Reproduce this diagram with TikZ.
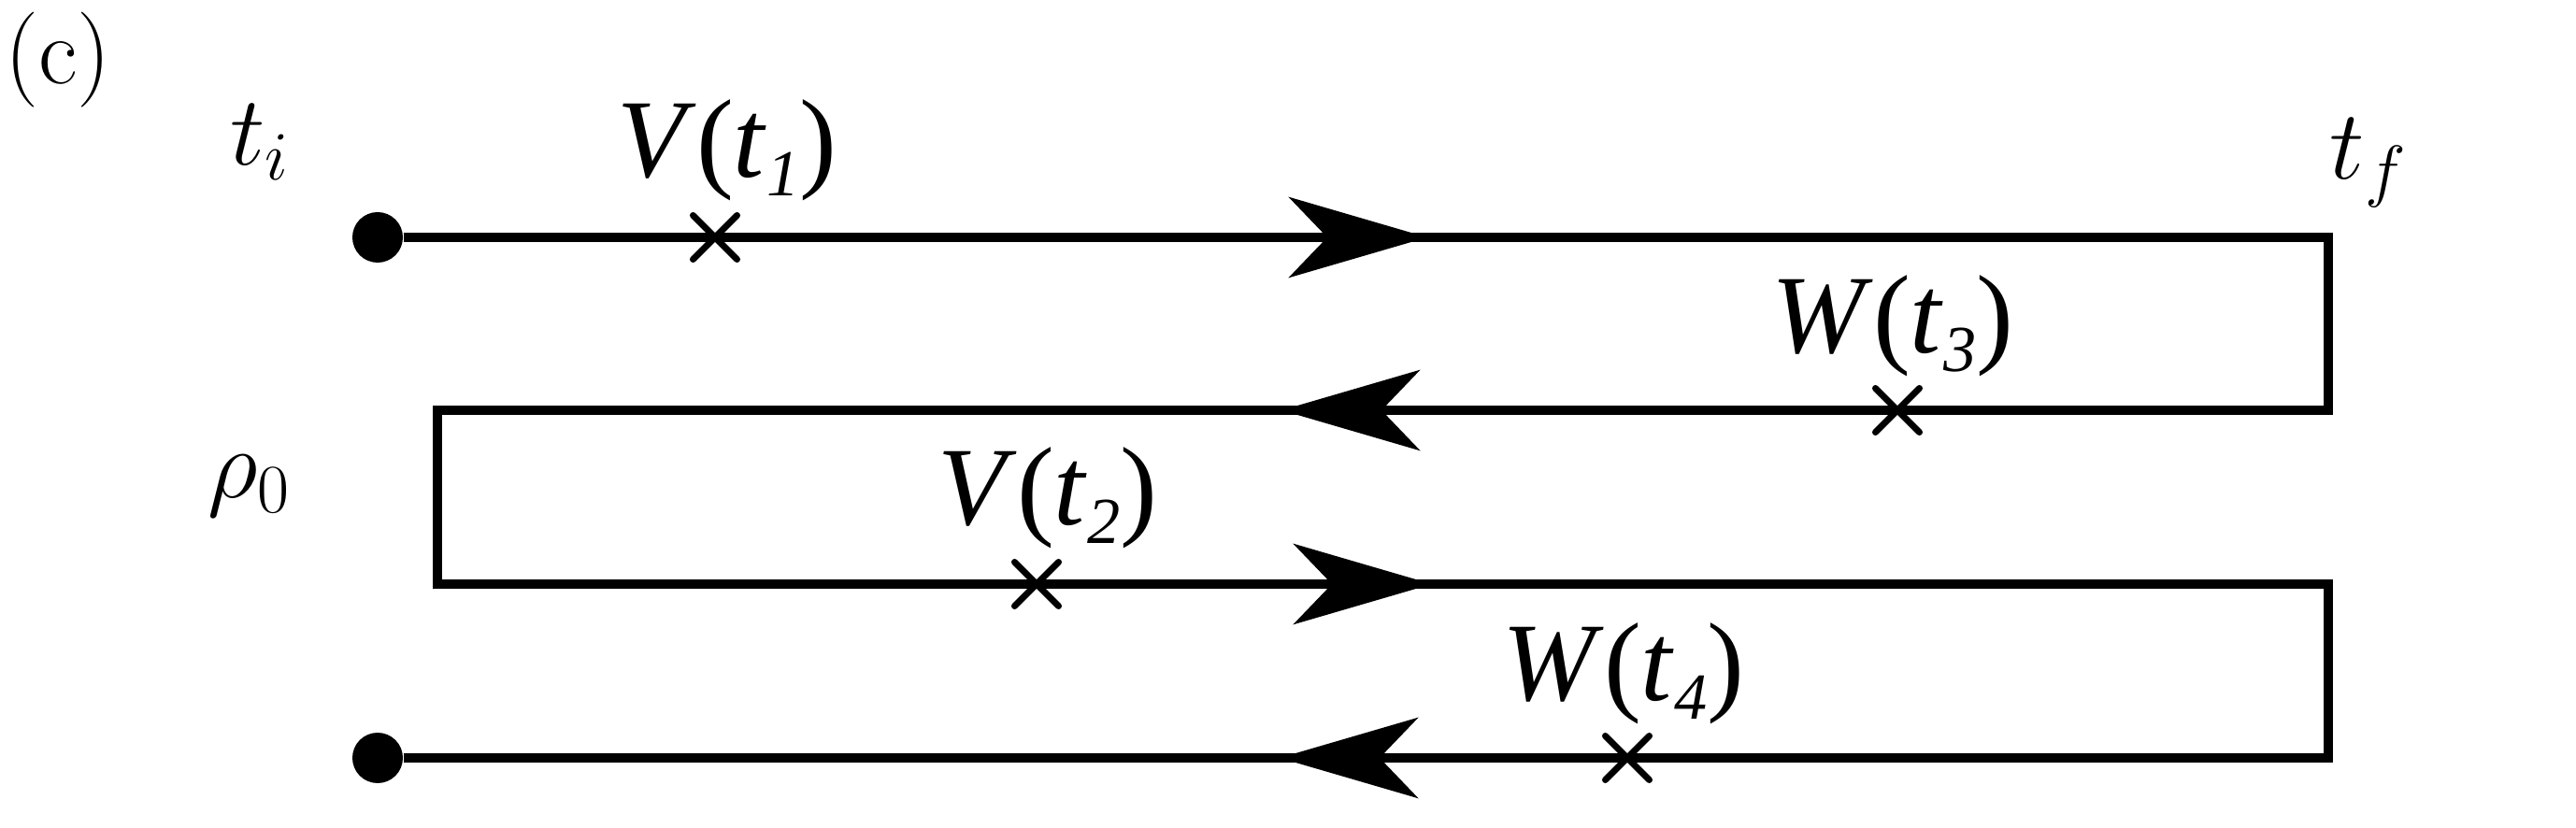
\RequirePackage{fix-cm}
\documentclass[tikz,border=0pt]{standalone}
\usepackage{fontspec}
\usepackage{tikz}
\usetikzlibrary{arrows.meta,shapes.misc,positioning}

\newfontfamily\timesfont{Liberation Serif}
\newcommand{\oplbl}[2]{{\timesfont\fontsize{34}{40}\selectfont\textit{#1}(\textit{t}\raisebox{-0.35ex}{\fontsize{20}{20}\selectfont\textit{#2}})}}

\begin{document}
\begin{tikzpicture}[
    branch/.style={line width=2.7pt},
    endpoint/.style={circle, fill=black, inner sep=0pt, minimum size=0.54cm},
    event/.style={cross out, draw, line width=2pt, line cap=round, inner sep=0pt, minimum size=0.4cm},
    oplabel/.style={anchor=base, inner sep=0pt},
    timelabel/.style={anchor=base, inner sep=0pt, font=\fontsize{30}{36}\selectfont},
    arrow/.style={-{Stealth[length=14.8mm, width=8.6mm, inset=4.1mm]}, line width=2.7pt}
]
\useasboundingbox (0,0) rectangle (27.56,8.86);

% Panel tag and time labels
\node[timelabel, font=\fontsize{29}{34}\selectfont] (tag) at (0.62,7.96) {(c)};
\node[timelabel] (ti) at (2.78,7.09) {$t_i$};
\node[timelabel] (tf) at (25.34,6.94) {$t_f$};
\node[timelabel] (rho) at (2.67,3.53) {$\rho_0$};

% End points of the contour
\node[endpoint] (start) at (4.04,6.32) {};
\node[endpoint] (stop) at (4.04,0.75) {};

% Turning points
\coordinate (r1) at (24.91,6.32);
\coordinate (r2) at (24.91,4.47);
\coordinate (l1) at (4.68,4.47);
\coordinate (l2) at (4.68,2.61);
\coordinate (r3) at (24.91,2.61);
\coordinate (r4) at (24.91,0.75);

% Contour
\draw[branch] (start) -- (r1) -- (r2) -- (l1) -- (l2) -- (r3) -- (r4) -- (stop);

% Direction arrows
\coordinate (tailA) at (13.77,6.32); \coordinate (tipA) at (15.27,6.32);
\coordinate (tailB) at (15.21,4.47); \coordinate (tipB) at (13.71,4.47);
\coordinate (tailC) at (13.82,2.61); \coordinate (tipC) at (15.32,2.61);
\coordinate (tailD) at (15.19,0.75); \coordinate (tipD) at (13.69,0.75);
\draw[arrow] (tailA) -- (tipA);
\draw[arrow] (tailB) -- (tipB);
\draw[arrow] (tailC) -- (tipC);
\draw[arrow] (tailD) -- (tipD);

% Operator insertions
\node[event] (v1) at (7.65,6.32) {};
\node[event] (w3) at (20.30,4.47) {};
\node[event] (v2) at (11.09,2.61) {};
\node[event] (w4) at (17.41,0.75) {};

\node[oplabel] (labv1) at (7.78,6.96) {\oplbl{V}{1}};
\node[oplabel] (labw3) at (20.25,5.08) {\oplbl{W}{3}};
\node[oplabel] (labv2) at (11.21,3.24) {\oplbl{V}{2}};
\node[oplabel] (labw4) at (17.37,1.36) {\oplbl{W}{4}};

\end{tikzpicture}
\end{document}
